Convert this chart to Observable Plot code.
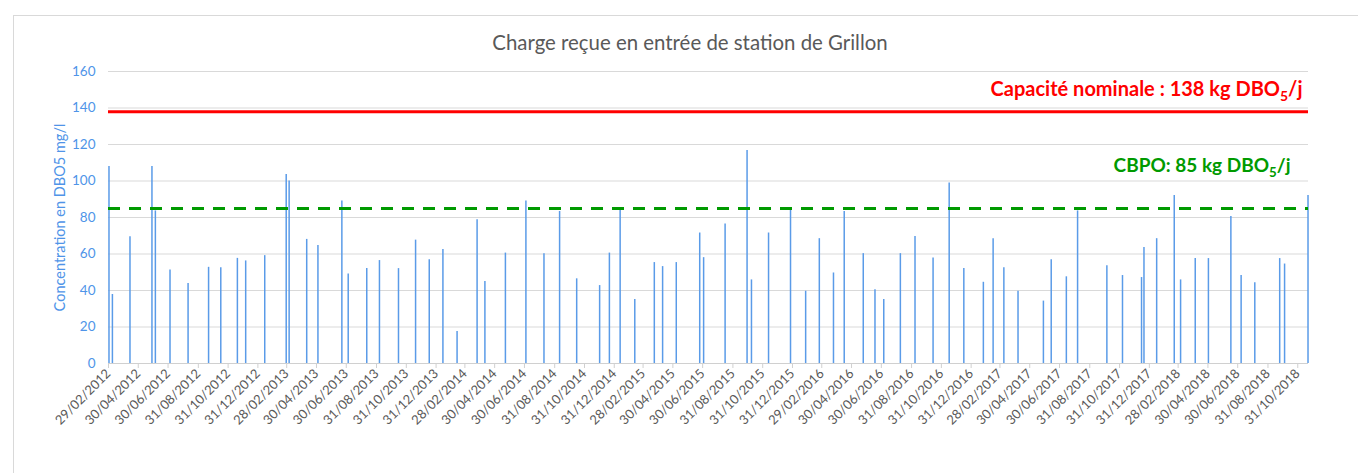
<!DOCTYPE html>
<html><head><meta charset="utf-8">
<script src="https://cdn.jsdelivr.net/npm/d3@7"></script>
<script src="https://cdn.jsdelivr.net/npm/@observablehq/plot@0.6"></script>
<style>
body{margin:0;background:#fff;overflow:hidden;width:1358px;height:473px;}
#wrap{position:relative;width:1358px;height:473px;overflow:hidden;}
#frame{position:absolute;left:13px;top:15px;width:1400px;height:500px;border:1px solid #d9d9d9;box-sizing:border-box;}
#title{position:absolute;left:13px;width:1354px;top:31px;text-align:center;font-family:Lato,sans-serif;font-size:20.4px;line-height:22px;color:#595959;}
#chart{position:absolute;left:0;top:0;}
</style>
</head><body>
<div id="wrap"><div id="frame"></div><div id="chart"></div><div id="title"></div></div>
<script>
const title = "Charge reçue en entrée de station de Grillon";
const yLabel = "Concentration en DBO5 mg/l";
const capacityLabel = "Capacité nominale : 138 kg DBO5/j";
const cbpoLabel = "CBPO: 85 kg DBO5/j";
const capacity = 138;
const cbpo = 85;
const axisStart = "29/02/2012";
const axisEnd = "22/11/2018";
const yTicks = [0, 20, 40, 60, 80, 100, 120, 140, 160];
const tickLabels = [
 "29/02/2012","30/04/2012","30/06/2012","31/08/2012","31/10/2012","31/12/2012",
 "28/02/2013","30/04/2013","30/06/2013","31/08/2013","31/10/2013","31/12/2013",
 "28/02/2014","30/04/2014","30/06/2014","31/08/2014","31/10/2014","31/12/2014",
 "28/02/2015","30/04/2015","30/06/2015","31/08/2015","31/10/2015","31/12/2015",
 "29/02/2016","30/04/2016","30/06/2016","31/08/2016","31/10/2016","31/12/2016",
 "28/02/2017","30/04/2017","30/06/2017","31/08/2017","31/10/2017","31/12/2017",
 "28/02/2018","30/04/2018","30/06/2018","31/08/2018","31/10/2018"
];
const sampleDates = [
 "01/03/2012","08/03/2012","13/04/2012","28/05/2012","04/06/2012","04/07/2012","10/08/2012","21/09/2012","16/10/2012","19/11/2012","06/12/2012",
 "14/01/2013","27/02/2013","05/03/2013","10/04/2013","03/05/2013","21/06/2013","04/07/2013","11/08/2013","06/09/2013","15/10/2013","19/11/2013","17/12/2013",
 "14/01/2014","12/02/2014","25/03/2014","10/04/2014","22/05/2014","03/07/2014","09/08/2014","10/09/2014","15/10/2014","01/12/2014","21/12/2014",
 "12/01/2015","11/02/2015","23/03/2015","09/04/2015","07/05/2015","24/06/2015","02/07/2015","15/08/2015","29/09/2015","08/10/2015","12/11/2015","27/12/2015",
 "27/01/2016","24/02/2016","24/03/2016","15/04/2016","24/05/2016","17/06/2016","05/07/2016","08/08/2016","07/09/2016","14/10/2016","16/11/2016","16/12/2016",
 "25/01/2017","14/02/2017","08/03/2017","06/04/2017","28/05/2017","13/06/2017","14/07/2017","06/08/2017","05/10/2017","06/11/2017","15/12/2017","20/12/2017",
 "15/01/2018","20/02/2018","05/03/2018","04/04/2018","01/05/2018","16/06/2018","07/07/2018","04/08/2018","24/09/2018","04/10/2018","21/11/2018"
];
const sampleValues = [
 108, 37.8, 69.5, 108, 83.6, 51.3, 43.8, 52.7, 52.4, 57.6, 56.2,
 59.1, 103.6, 100, 68, 64.7, 89.1, 49.1, 52, 56.4, 52, 67.6, 56.9,
 62.5, 17.6, 78.7, 44.9, 60.5, 89.1, 60.2, 83.3, 46.4, 42.7, 60.5,
 84.2, 35.1, 55.3, 53.1, 55.3, 71.5, 58, 76.4, 116.7, 45.8, 71.5, 84.2,
 39.6, 68.4, 49.6, 83.3, 60.2, 40.4, 35.1, 60.2, 69.6, 57.8, 98.9, 52,
 44.5, 68.4, 52.4, 39.6, 34.2, 56.9, 47.5, 83.6, 53.6, 48.2, 47.1, 63.5,
 68.4, 92, 45.8, 57.5, 57.5, 80.5, 48.2, 44.2, 57.5, 54.5, 92
];

document.getElementById("title").textContent = title;
const parse = d3.timeParse("%d/%m/%Y");
const fmt = d3.timeFormat("%d/%m/%Y");
const table = sampleDates.map((d, i) => ({date: parse(d), value: sampleValues[i]}));
const ticks = tickLabels.map(parse);
const blue = "#4f94e8";

const chart = Plot.plot({
  width: 1358, height: 473,
  marginLeft: 108, marginRight: 50, marginTop: 71, marginBottom: 110,
  style: {fontFamily: "Lato, sans-serif", fontSize: "13px", background: "transparent"},
  x: {type: "time", domain: [parse(axisStart), parse(axisEnd)]},
  y: {domain: [0, 160]},
  marks: [
    Plot.gridY(yTicks, {stroke: "#d9d9d9", strokeOpacity: 1}),
    Plot.ruleY([0], {stroke: "#d0d0d0"}),
    Plot.axisY(yTicks, {tickSize: 0, tickPadding: 13, fill: blue, fontSize: 13.5, label: null}),
    Plot.text([yLabel], {frameAnchor: "left", textAnchor: "middle", rotate: -90, dx: -48, fill: blue, fontSize: 14.5}),
    Plot.axisX(ticks, {tickFormat: fmt, tickRotate: -45, tickSize: 5, stroke: "#d0d0d0",
      fill: "#595959", fontSize: 13, label: null, tickPadding: 3}),
    Plot.ruleX(table, {x: "date", y1: 0, y2: "value", stroke: "#5a9be8", strokeWidth: 1.5}),
    Plot.ruleY([capacity], {stroke: "#ff0000", strokeWidth: 3}),
    Plot.ruleY([cbpo], {stroke: "#009a00", strokeWidth: 3, strokeDasharray: "12,9"}),
    Plot.text([{v: capacity, t: capacityLabel}], {y: "v", text: "t", frameAnchor: "right", textAnchor: "end",
      dx: -6, dy: -22, fill: "#ff0000", fontWeight: "bold", fontSize: 20}),
    Plot.text([{v: cbpo, t: cbpoLabel}], {y: "v", text: "t", frameAnchor: "right", textAnchor: "end",
      dx: -18, dy: -42, fill: "#009a00", fontWeight: "bold", fontSize: 19})
  ]
});
document.getElementById("chart").appendChild(chart);

// subscript "5" in DBO5/j annotations
d3.select(chart).selectAll("text").each(function() {
  const s = this.textContent;
  if (s.endsWith("DBO5/j") && this.childElementCount === 0) {
    const [a] = s.split("DBO5/j");
    const t = d3.select(this);
    t.text(null);
    t.append("tspan").text(a + "DBO");
    t.append("tspan").attr("dy", 5).attr("font-size", "70%").text("5");
    t.append("tspan").attr("dy", -5).text("/j");
  }
});
</script>
</body></html>
